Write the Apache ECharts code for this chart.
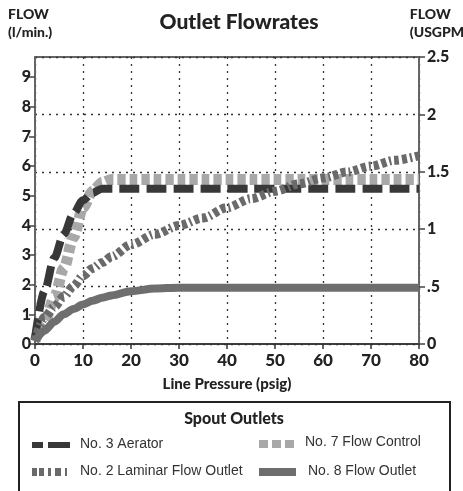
<!DOCTYPE html>
<html><head><meta charset="utf-8">
<script src="https://cdn.jsdelivr.net/npm/echarts@6/dist/echarts.min.js"></script>
<style>html,body{margin:0;padding:0;background:#fff}#c{width:463px;height:491px}</style>
</head><body><div id="c"></div>
<script>
// Data (flow in l/min vs line pressure in psig)
var pressure = [0, 2, 4, 6, 8, 10, 12, 14, 16, 20, 25, 30, 35, 40, 45, 50, 55, 60, 65, 70, 75, 80];
var aerator = [0.2, 1.8, 2.9, 3.7, 4.4, 4.85, 5.1, 5.24, 5.24, 5.24, 5.24, 5.24, 5.24, 5.24, 5.24, 5.24, 5.24, 5.24, 5.24, 5.24, 5.24, 5.24];
var flowControl = [0.1, 0.75, 1.55, 2.55, 3.6, 4.6, 5.15, 5.45, 5.55, 5.55, 5.55, 5.55, 5.55, 5.55, 5.55, 5.55, 5.55, 5.55, 5.55, 5.55, 5.55, 5.55];
var laminar = [0.1, 0.9, 1.25, 1.6, 1.95, 2.3, 2.55, 2.75, 2.95, 3.35, 3.7, 4.0, 4.25, 4.6, 4.9, 5.15, 5.4, 5.6, 5.8, 6.0, 6.2, 6.35];
var outlet = [0.1, 0.45, 0.75, 1.0, 1.18, 1.33, 1.46, 1.56, 1.64, 1.78, 1.87, 1.9, 1.9, 1.9, 1.9, 1.9, 1.9, 1.9, 1.9, 1.9, 1.9, 1.9];
var leftTicks = [0, 1, 2, 3, 4, 5, 6, 7, 8, 9];
var rightTicks = [0, 0.5, 1, 1.5, 2, 2.5];
var seriesNames = ['No. 3 Aerator', 'No. 7 Flow Control', 'No. 2 Laminar Flow Outlet', 'No. 8 Flow Outlet'];

function pairs(ys) { return pressure.map(function (x, i) { return [x, ys[i]]; }); }

var bold = 'Lato';
var chart = echarts.init(document.getElementById('c'), null, { renderer: 'canvas' });
chart.setOption({
  animation: false,
  title: {
    text: 'Outlet Flowrates', left: 234, textAlign: 'center', top: 7,
    textStyle: { fontFamily: bold, fontWeight: 900, fontSize: 21, color: '#222' }
  },
  grid: { left: 35, right: 44, top: 57, bottom: 147, show: true, borderColor: '#333', borderWidth: 1.5 },
  xAxis: {
    type: 'value', min: 0, max: 80, interval: 10,
    name: 'Line Pressure (psig)', nameLocation: 'middle', nameGap: 33,
    nameTextStyle: { fontFamily: bold, fontWeight: 900, fontSize: 15, color: '#222' },
    axisLine: { lineStyle: { color: '#333', width: 1.5 } },
    axisTick: { length: 5, lineStyle: { color: '#333', width: 1.5 } },
    axisLabel: { fontFamily: bold, fontWeight: 900, fontSize: 17, color: '#222', margin: 8 },
    splitLine: { show: true, lineStyle: { color: '#333', type: [2, 5], width: 1.3 } }
  },
  yAxis: [{
    type: 'value', min: 0, max: 9.68, position: 'left',
    axisLine: { show: true, lineStyle: { color: '#666', width: 2 } },
    axisTick: { show: true, length: 6, customValues: leftTicks, lineStyle: { color: '#444', width: 1.5 } },
    axisLabel: { customValues: leftTicks, fontFamily: bold, fontWeight: 900, fontSize: 16, color: '#222', margin: 4 },
    splitLine: { show: false }
  }, {
    type: 'value', min: 0, max: 2.5, interval: 0.5, position: 'right',
    axisLine: { show: true, lineStyle: { color: '#666', width: 2 } },
    axisTick: { show: true, length: 6, lineStyle: { color: '#444', width: 1.5 } },
    axisLabel: {
      fontFamily: bold, fontWeight: 900, fontSize: 16, color: '#222', margin: 8,
      formatter: function (v) { return v === 0.5 ? '.5' : String(v); }
    },
    splitLine: { show: true, lineStyle: { color: '#333', type: [2, 5], width: 1.3 } }
  }],
  series: [{
    name: seriesNames[1], type: 'line', data: pairs(flowControl), showSymbol: false, smooth: 0.3, smoothMonotone: 'x', z: 2,
    lineStyle: { color: '#a8a8a8', width: 11, type: [8, 4], cap: 'butt' }
  }, {
    name: seriesNames[0], type: 'line', data: pairs(aerator), showSymbol: false, smooth: 0.3, smoothMonotone: 'x', z: 3,
    lineStyle: { color: '#383838', width: 8, type: [20, 7], cap: 'butt' }
  }, {
    name: seriesNames[2], type: 'line', data: pairs(laminar), showSymbol: false, smooth: 0.3, smoothMonotone: 'x', z: 4,
    lineStyle: { color: '#6a6a6a', width: 9, type: [5, 3, 5, 3, 2, 3], cap: 'butt' }
  }, {
    name: seriesNames[3], type: 'line', data: pairs(outlet), showSymbol: false, smooth: 0.3, smoothMonotone: 'x', z: 5,
    lineStyle: { color: '#6e6e6e', width: 8 }
  }],
  graphic: [
    { type: 'text', left: 8, top: 5, style: { text: 'FLOW\n(l/min.)', font: '900 14px Lato', fill: '#222', lineHeight: 18 } },
    { type: 'text', right: -5, top: 5, style: { text: 'FLOW   \n(USGPM)', font: '900 14px Lato', fill: '#222', lineHeight: 18, align: 'right' } },
    { type: 'rect', shape: { x: 19, y: 402, width: 431, height: 100 }, style: { fill: '#fff', stroke: '#222', lineWidth: 2 } },
    { type: 'text', x: 234, y: 411, style: { text: 'Spout Outlets', font: '900 16px Lato', fill: '#222', align: 'center' } },
    { type: 'line', shape: { x1: 32, y1: 445, x2: 70, y2: 445 }, style: { stroke: '#383838', lineWidth: 6, lineDash: [11, 5, 22, 0] } },
    { type: 'line', shape: { x1: 259, y1: 444, x2: 294, y2: 444 }, style: { stroke: '#a8a8a8', lineWidth: 8, lineDash: [9, 4] } },
    { type: 'line', shape: { x1: 32, y1: 472, x2: 72, y2: 472 }, style: { stroke: '#6a6a6a', lineWidth: 8, lineDash: [5, 2, 5, 4, 3, 4, 6, 4, 2, 10] } },
    { type: 'line', shape: { x1: 259, y1: 472, x2: 296, y2: 472 }, style: { stroke: '#6e6e6e', lineWidth: 8 } },
    { type: 'text', x: 80, y: 437, style: { text: seriesNames[0], font: '14px "Liberation Sans"', fill: '#333' } },
    { type: 'text', x: 305, y: 435, style: { text: seriesNames[1], font: '14px "Liberation Sans"', fill: '#333' } },
    { type: 'text', x: 80, y: 464, style: { text: seriesNames[2], font: '14px "Liberation Sans"', fill: '#333' } },
    { type: 'text', x: 308, y: 464, style: { text: seriesNames[3], font: '14px "Liberation Sans"', fill: '#333' } }
  ]
});
</script></body></html>
